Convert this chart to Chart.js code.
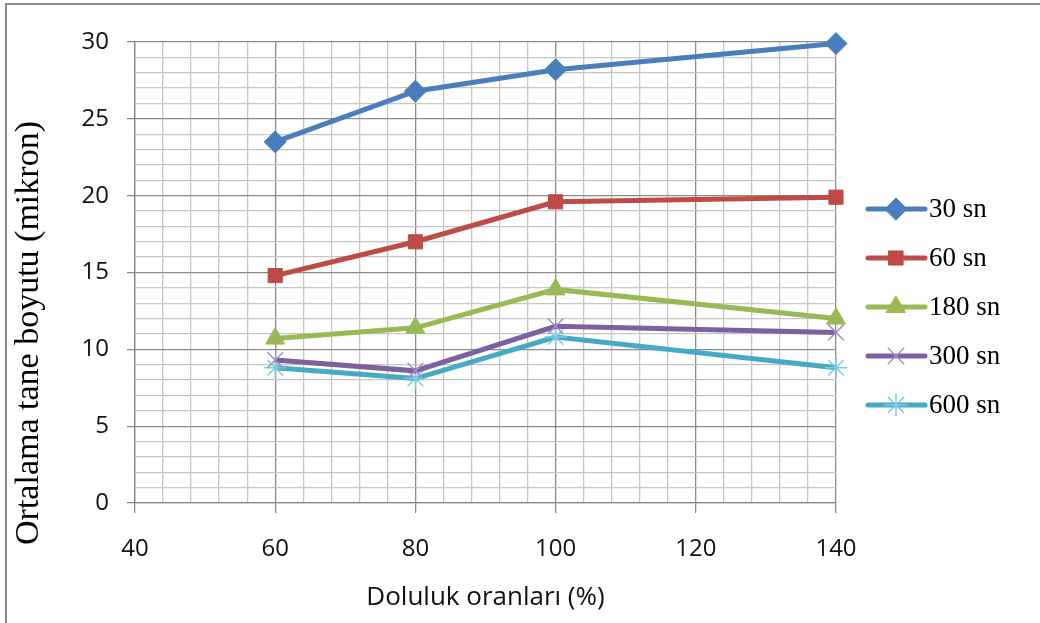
<!DOCTYPE html>
<html>
<head>
<meta charset="utf-8">
<script src="https://cdn.jsdelivr.net/npm/chart.js@4/dist/chart.umd.min.js"></script>
<style>
  body { margin: 0; background: #fff; }
  #wrap { width: 1040px; height: 623px; }
</style>
</head>
<body>
<div id="wrap"><canvas id="grainChart" width="1040" height="623"></canvas></div>
<script>
// values
var doluluk = [60, 80, 100, 140];
var sn30  = [23.5, 26.8, 28.2, 29.9];
var sn60  = [14.8, 17.0, 19.6, 19.9];
var sn180 = [10.7, 11.4, 13.9, 12.0];
var sn300 = [9.3, 8.6, 11.5, 11.1];
var sn600 = [8.8, 8.1, 10.8, 8.8];
var seriesLabels = ['30 sn', '60 sn', '180 sn', '300 sn', '600 sn'];
var xLabels = [40, 60, 80, 100, 120, 140];
var yLabels = [0, 5, 10, 15, 20, 25, 30];

var majorGrid = '#8c8c8c';
var minorGrid = '#c6c6c6';

function points(ys) {
  return doluluk.map(function(x, i) { return { x: x, y: ys[i] }; });
}

function series(label, ys, color, style, radius, markerColor, markerBorder) {
  return {
    label: label,
    data: points(ys),
    borderColor: color,
    backgroundColor: markerColor || color,
    borderWidth: 5,
    pointStyle: style,
    pointRadius: radius,
    pointHoverRadius: radius,
    pointBackgroundColor: markerColor || color,
    pointBorderColor: markerColor || color,
    pointBorderWidth: markerBorder || 1,
    tension: 0,
    clip: false
  };
}

// frame + y title + legend, drawn on the same canvas
var extras = {
  id: 'extras',
  beforeDraw: function(chart) {
    var ctx = chart.ctx;
    ctx.save();
    ctx.strokeStyle = '#8a8a8a';
    ctx.lineWidth = 2;
    ctx.beginPath();
    ctx.moveTo(6, 623);
    ctx.lineTo(6, 4);
    ctx.lineTo(1040, 4);
    ctx.stroke();
    ctx.restore();
  },
  afterDraw: function(chart) {
    var ctx = chart.ctx;
    ctx.save();
    ctx.translate(29, 333);
    ctx.rotate(-Math.PI / 2);
    ctx.font = '34px "Liberation Serif"';
    ctx.fillStyle = '#000';
    ctx.textAlign = 'center';
    ctx.textBaseline = 'middle';
    ctx.fillText('Ortalama tane boyutu (mikron)', 0, 0);
    ctx.restore();

    var rowY = [209, 258, 307, 356, 405];
    chart.data.datasets.forEach(function(ds, i) {
      var y = rowY[i];
      ctx.save();
      ctx.strokeStyle = ds.borderColor;
      ctx.lineWidth = 5;
      ctx.lineCap = 'round';
      ctx.beginPath();
      ctx.moveTo(868, y);
      ctx.lineTo(925, y);
      ctx.stroke();
      ctx.fillStyle = ds.pointBackgroundColor;
      ctx.strokeStyle = ds.pointBorderColor;
      ctx.lineWidth = ds.pointBorderWidth;
      Chart.helpers.drawPoint(ctx, {
        pointStyle: ds.pointStyle, radius: ds.pointRadius, rotation: 0, borderWidth: ds.pointBorderWidth
      }, 896, y);
      ctx.fillStyle = '#000';
      ctx.font = '27px "Liberation Serif"';
      ctx.textAlign = 'left';
      ctx.textBaseline = 'middle';
      ctx.fillText(ds.label, 929, y + 1);
      ctx.restore();
    });
  }
};

var ctx = document.getElementById('grainChart').getContext('2d');
var grainChart = new Chart(ctx, {
  type: 'line',
  data: {
    datasets: [
      series(seriesLabels[0], sn30, '#4a7ebb', 'rectRot', 11),
      series(seriesLabels[1], sn60, '#be4b48', 'rect', 10),
      series(seriesLabels[2], sn180, '#98b954', 'triangle', 11),
      series(seriesLabels[3], sn300, '#7d60a0', 'crossRot', 11, '#a490c4', 1.5),
      series(seriesLabels[4], sn600, '#46aac5', 'star', 11, '#7fcbe0', 1.5)
    ]
  },
  options: {
    responsive: false,
    animation: false,
    layout: { padding: { top: 42, right: 204, left: 0, bottom: 0 } },
    plugins: {
      legend: { display: false },
      tooltip: { enabled: false }
    },
    scales: {
      x: {
        type: 'linear',
        min: 40,
        max: 140,
        afterFit: function(scale) { scale.height = 120; },
        ticks: {
          stepSize: 4,
          autoSkip: false,
          maxRotation: 0,
          padding: 22,
          color: '#111',
          font: { family: 'Open Sans', size: 24 },
          callback: function(v) { return xLabels.indexOf(v) >= 0 ? String(v) : ''; }
        },
        grid: {
          color: function(c) { return c.tick && xLabels.indexOf(c.tick.value) >= 0 ? majorGrid : minorGrid; },
          tickColor: function(c) { return c.tick && xLabels.indexOf(c.tick.value) >= 0 ? majorGrid : 'rgba(0,0,0,0)'; },
          tickLength: 10,
          lineWidth: 1.3
        },
        border: { color: majorGrid, width: 1.3 },
        title: {
          display: true,
          text: 'Doluluk oranları (%)',
          color: '#111',
          font: { family: 'Open Sans', size: 26 },
          padding: { top: 0, bottom: 10 }
        }
      },
      y: {
        min: 0,
        max: 30,
        afterFit: function(scale) { scale.width = 135; },
        ticks: {
          stepSize: 1,
          autoSkip: false,
          padding: 18,
          color: '#111',
          font: { family: 'Open Sans', size: 24 },
          callback: function(v) { return yLabels.indexOf(v) >= 0 ? String(v) : ''; }
        },
        grid: {
          color: function(c) { return c.tick && yLabels.indexOf(c.tick.value) >= 0 ? majorGrid : minorGrid; },
          tickColor: function(c) { return c.tick && yLabels.indexOf(c.tick.value) >= 0 ? majorGrid : 'rgba(0,0,0,0)'; },
          tickLength: 8,
          lineWidth: 1.3
        },
        border: { color: majorGrid, width: 1.3 }
      }
    }
  },
  plugins: [extras]
});
</script>
</body>
</html>
